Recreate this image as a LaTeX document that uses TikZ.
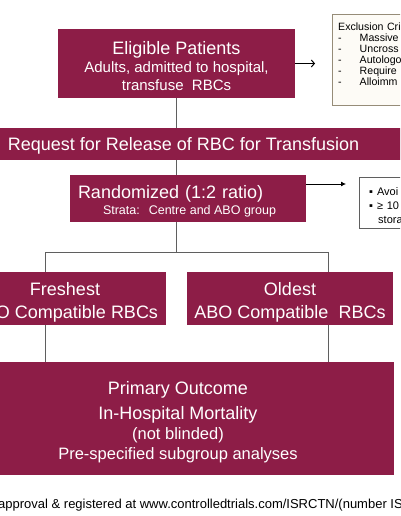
\documentclass[tikz,border=0pt]{standalone}
\usepackage{fontspec}
\setmainfont{Liberation Sans}
\usetikzlibrary{arrows.meta,positioning}
\definecolor{trialred}{RGB}{141,29,71}
\definecolor{linegray}{RGB}{95,95,95}
\definecolor{notebg}{RGB}{253,251,246}
\definecolor{noteline}{RGB}{150,140,120}
\newcommand{\toplift}[1]{\rule{0pt}{#1}}

\begin{document}
\begin{tikzpicture}[x=1pt,y=-1pt,
    phase/.style={fill=trialred,text=white,inner sep=0pt,align=center,font=\fontsize{18}{23}\selectfont},
    note/.style={draw=noteline,fill=notebg,inner xsep=6pt,inner ysep=9pt,align=left,font=\fontsize{10.6}{11}\selectfont},
    link/.style={draw=linegray,line width=0.8pt}]
\useasboundingbox (0,0) rectangle (400,516);
\clip (0,0) rectangle (400,516);
\node[phase,minimum width=237pt,minimum height=69pt,font=\fontsize{15}{18}\selectfont] (elig) at (176.5,63.5)
  {{\fontsize{18}{18}\selectfont\toplift{19pt}Eligible Patients}\\Adults, admitted to hospital,\\transfuse~ RBCs};
\node[note,anchor=north west,text width=80pt] (excl) at (332,14)
  {Exclusion Cri\\-\hspace{18pt}Massive\\-\hspace{18pt}Uncross\\-\hspace{18pt}Autologo\\-\hspace{18pt}Require\\-\hspace{18pt}Alloimm\rule[-10pt]{0pt}{10pt}};
\coordinate (exarr) at (315,63.5);
\node[phase,minimum width=450pt,minimum height=32pt,text depth=0pt] (req) at (183.5,144) {Request for Release of RBC for Transfusion};
\node[phase,align=left,text width=220pt,inner xsep=8pt,minimum height=47pt] (rand) at (188,198.5)
  {\toplift{18pt}Randomized (1:2 ratio)\\[-7pt]\hspace*{25pt}{\fontsize{12.5}{14}\selectfont\spaceskip=0pt Strata: Centre and ABO group}};
\coordinate (randout) at (346,184);
\node[draw=linegray,fill=white,anchor=north west,align=left,inner xsep=10pt,inner ysep=0pt,text width=40pt,minimum height=51pt,font=\fontsize{11}{14}\selectfont] (stor) at (359,177)
  {\toplift{14pt}▪\hspace{4pt}Avoi\\▪\hspace{4pt}≥ 10\\\hspace*{9pt}stora};
\node[phase,minimum width=202pt,minimum height=53pt] (fresh) at (65,298.5) {\toplift{21pt}Freshest\\ABO Compatible RBCs};
\node[phase,minimum width=206pt,minimum height=53pt] (old) at (290,298.5) {\toplift{21pt}Oldest\\ABO Compatible~ RBCs};
\node[phase,minimum width=432pt,minimum height=113pt] (outc) at (178,418.5)
  {\toplift{21pt}Primary Outcome\\[2pt]In-Hospital Mortality\\[-3pt]{\fontsize{16.5}{20}\selectfont (not blinded)}\\[-3pt]{\fontsize{16.5}{20}\selectfont Pre-specified subgroup analyses}};
\node[anchor=west,inner sep=0pt,font=\fontsize{13}{15}\selectfont] (foot) at (-2,505)
  {approval \& registered at www.controlledtrials.com/ISRCTN/(number IS};
\coordinate (lfork) at (45,252);
\coordinate (rfork) at (328,252);
% trunk
\draw[link] (elig.south) -- (elig.south |- req.north);
\draw[link] (req.south -| elig.south) -- (rand.north -| elig.south);
\draw[link] (rand.south -| elig.south) -- (lfork -| elig.south);
\draw[link] (lfork) -- (rfork);
\draw[link] (lfork) -- (lfork |- fresh.north);
\draw[link] (rfork) -- (rfork |- old.north);
\draw[link] (lfork |- fresh.south) -- (lfork |- outc.north);
\draw[link] (rfork |- old.south) -- (rfork |- outc.north);
% side notes
\draw[link,-{Straight Barb[length=3pt,width=7pt]},line width=1pt,draw=black] (elig.east) -- (exarr);
\draw[link,-{Latex[length=5pt,width=5pt]},draw=black] (rand.east |- randout) -- (randout);
\end{tikzpicture}
\end{document}
